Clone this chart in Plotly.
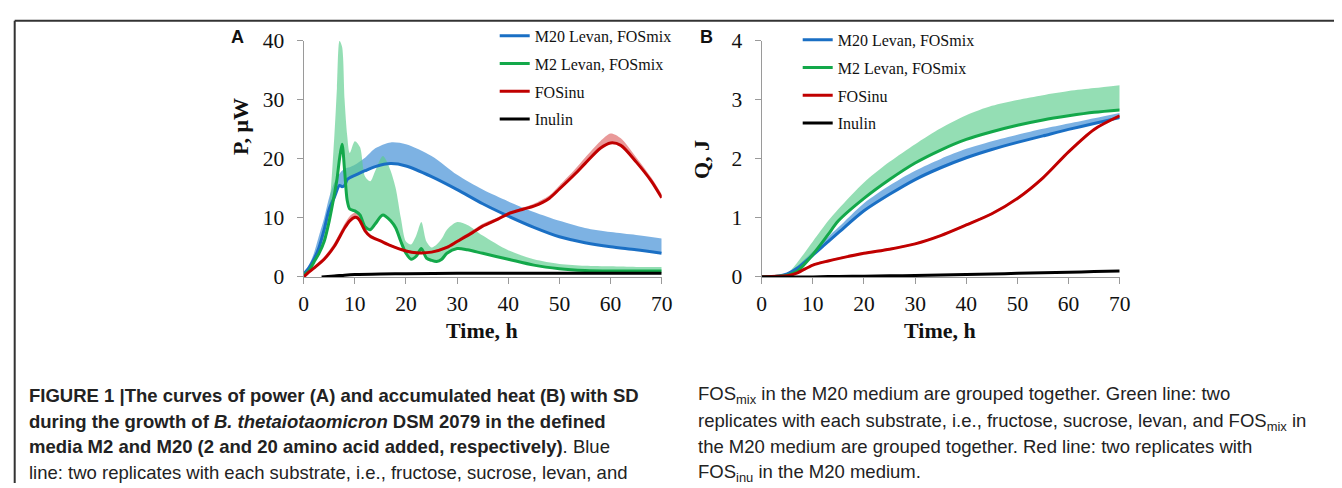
import plotly.graph_objects as go

W, H = 1342, 488

# ---------------- Panel A: power P (µW) ----------------
tA_m20 = [0, 1, 2, 3, 4, 5, 6, 7, 7.5, 8, 8.5, 9, 10, 12, 14, 17, 20, 25, 30, 35, 40, 45, 50, 55, 60, 65, 70]
pA_m20 = [0.5, 1.5, 3, 5, 8, 11.5, 13.5, 15.5, 15.3, 15.5, 16.5, 16.8, 17.2, 18, 18.7, 19.2, 18.8, 17, 14.8, 12.4, 10.3, 8.4, 6.8, 5.8, 5.1, 4.6, 4.0]
pA_m20_up = [0.8, 2, 4, 7, 10, 13.5, 16, 17.5, 18, 18.3, 18.5, 18.6, 19, 20.2, 21.8, 22.8, 22.5, 20.5, 17.3, 14.8, 12.8, 11, 9.5, 8.3, 7.6, 7.1, 6.5]

tA_m2 = [0, 1, 2, 3, 4, 5, 6, 6.5, 7, 7.5, 8, 8.5, 9, 10, 11, 12, 13, 14, 15, 15.5, 16, 17, 18, 19, 20, 21, 22, 23, 24, 25, 26, 27, 28, 30, 32, 35, 40, 45, 50, 55, 60, 65, 70]
pA_m2 = [0.3, 1, 2.5, 4, 6, 9.5, 14, 16.5, 20, 22.5, 18, 13, 11.5, 11.2, 10.5, 8.5, 8, 9, 10.2, 10.5, 10.3, 9.5, 8.3, 6, 4, 3, 3.5, 4.8, 3.2, 2.8, 2.6, 3, 4, 4.8, 4.6, 4, 3, 2, 1.4, 1.1, 1, 1, 1]
pA_m2_up = [0.5, 1.3, 3, 5, 7.5, 12, 24, 32, 40, 39, 30, 24, 21, 23, 22, 17, 16.2, 18, 20, 20.5, 20, 18, 15, 10, 6, 5.5, 7, 9.3, 6, 5, 5.5, 6.5, 8, 9.3, 8.8, 7, 4.5, 3, 2.2, 1.9, 1.8, 1.7, 1.7]

tA_inu = [0, 1, 2, 4, 6, 8, 9, 10, 10.5, 11, 12, 13, 15, 17, 20, 22, 25, 28, 30, 33, 35, 38, 40, 43, 45, 48, 50, 53, 55, 58, 60, 62, 65, 68, 70]
pA_inu = [0, 0.8, 1.5, 3, 5.2, 8.3, 9.5, 10.1, 10, 9.5, 7.8, 6.9, 6.1, 5.3, 4.4, 4.1, 4.2, 5, 6, 7.5, 8.6, 9.8, 10.7, 11.5, 12, 13.3, 14.9, 17.4, 19.2, 21.8, 22.7, 22.3, 19.5, 16.2, 13.4]
pA_inu_up = [0.2, 1, 1.8, 3.4, 5.8, 9, 10.3, 10.9, 10.8, 10.2, 8.2, 7.2, 6.3, 5.5, 4.6, 4.3, 4.4, 5.3, 6.3, 7.9, 9, 10.1, 11, 11.8, 12.4, 13.8, 15.5, 18.2, 20.2, 23, 24.3, 23.5, 20.3, 16.8, 14]

tA_inulin = [3.5, 6, 8, 10, 15, 20, 30, 40, 50, 60, 70]
pA_inulin = [0, 0.15, 0.3, 0.4, 0.5, 0.55, 0.6, 0.6, 0.6, 0.6, 0.6]

# ---------------- Panel B: accumulated heat Q (J) ----------------
tB = [0, 3, 5, 7, 10, 13, 15, 20, 25, 30, 35, 40, 45, 50, 55, 60, 65, 70]
qB_m20 = [0, 0.01, 0.05, 0.15, 0.37, 0.6, 0.75, 1.12, 1.4, 1.65, 1.85, 2.02, 2.16, 2.28, 2.39, 2.5, 2.6, 2.7]
qB_m20_up = [0, 0.02, 0.07, 0.19, 0.43, 0.68, 0.84, 1.25, 1.55, 1.8, 2.0, 2.17, 2.3, 2.41, 2.51, 2.6, 2.69, 2.78]
qB_m2 = [0, 0.01, 0.03, 0.1, 0.38, 0.72, 0.95, 1.33, 1.65, 1.93, 2.15, 2.33, 2.46, 2.57, 2.66, 2.73, 2.79, 2.83]
qB_m2_up = [0, 0.02, 0.06, 0.25, 0.6, 0.95, 1.15, 1.6, 1.95, 2.25, 2.52, 2.74, 2.9, 3.0, 3.08, 3.15, 3.2, 3.25]
qB_inu = [0, 0.01, 0.02, 0.07, 0.2, 0.27, 0.31, 0.4, 0.47, 0.56, 0.7, 0.88, 1.07, 1.33, 1.68, 2.12, 2.5, 2.73]
qB_inu_up = [0, 0.01, 0.03, 0.08, 0.22, 0.29, 0.33, 0.42, 0.49, 0.58, 0.72, 0.9, 1.09, 1.35, 1.7, 2.14, 2.52, 2.75]
qB_inulin = [0, 0, 0, 0, 0, 0.005, 0.008, 0.012, 0.018, 0.025, 0.033, 0.042, 0.05, 0.06, 0.07, 0.08, 0.09, 0.1]

names = ["M20 Levan, FOSmix", "M2 Levan, FOSmix", "FOSinu", "Inulin"]
line_colors = ["#1a6fc4", "#13a84a", "#c00000", "#000000"]
band_colors = ["rgba(70,145,215,0.70)", "rgba(90,205,140,0.65)", "rgba(215,70,70,0.55)", "rgba(0,0,0,0.3)"]

fig = go.Figure()

# mapping from target screen pixels to paper coordinates (plot area as rendered)
OX, OY, PW, PH = 15.3, 20.2, 1326.0, 462.0

def px_x(p):
    return (p - OX) / PW

def px_y(p):
    return 1 - (p - OY) / PH

def add_band(t, mean, up, color, xa, ya):
    fig.add_trace(go.Scatter(x=t, y=up, mode="lines", line=dict(width=0, shape="spline", smoothing=0.8),
                             showlegend=False, hoverinfo="skip", xaxis=xa, yaxis=ya))
    fig.add_trace(go.Scatter(x=t, y=mean, mode="lines", line=dict(width=0, shape="spline", smoothing=0.8),
                             fill="tonexty", fillcolor=color, showlegend=False, hoverinfo="skip",
                             xaxis=xa, yaxis=ya))

def add_line(t, y, i, xa, ya, legend):
    fig.add_trace(go.Scatter(x=t, y=y, mode="lines", name=names[i],
                             line=dict(color=line_colors[i], width=3, shape="spline", smoothing=0.8),
                             legend=legend, legendgroup=legend + str(i), xaxis=xa, yaxis=ya))

# Panel A
add_band(tA_m20, pA_m20, pA_m20_up, band_colors[0], "x", "y")
add_band(tA_m2, pA_m2, pA_m2_up, band_colors[1], "x", "y")
add_band(tA_inu, pA_inu, pA_inu_up, band_colors[2], "x", "y")
add_line(tA_m20, pA_m20, 0, "x", "y", "legend")
add_line(tA_m2, pA_m2, 1, "x", "y", "legend")
add_line(tA_inu, pA_inu, 2, "x", "y", "legend")
add_line(tA_inulin, pA_inulin, 3, "x", "y", "legend")

# Panel B
add_band(tB, qB_m20, qB_m20_up, band_colors[0], "x2", "y2")
add_band(tB, qB_m2, qB_m2_up, band_colors[1], "x2", "y2")
add_band(tB, qB_inu, qB_inu_up, band_colors[2], "x2", "y2")
add_line(tB, qB_m20, 0, "x2", "y2", "legend2")
add_line(tB, qB_m2, 1, "x2", "y2", "legend2")
add_line(tB, qB_inu, 2, "x2", "y2", "legend2")
add_line(tB, qB_inulin, 3, "x2", "y2", "legend2")

serif = "Liberation Serif, Times New Roman, serif"
sans = "Liberation Sans, Arial, sans-serif"

axis_common = dict(showgrid=False, zeroline=False, showline=True, linecolor="#9a9a9a", linewidth=1.2,
                   ticks="outside", tickcolor="#9a9a9a", ticklen=6, tickwidth=1.2,
                   tickfont=dict(family=serif, size=21.5, color="#111"))
xaxis_common = dict(axis_common, ticklabelstandoff=1)
yaxis_common = dict(axis_common, ticklabelstandoff=8)

ydom = [px_y(277), px_y(42)]
fig.update_layout(
    width=W, height=H, margin=dict(l=0, r=0, t=0, b=0),
    paper_bgcolor="white", plot_bgcolor="white",
    xaxis=dict(domain=[px_x(306), px_x(664)], range=[0, 70], dtick=10, anchor="y", **xaxis_common),
    yaxis=dict(domain=ydom, range=[0, 40], dtick=10, anchor="x", **yaxis_common),
    xaxis2=dict(domain=[px_x(764), px_x(1122)], range=[0, 70], dtick=10, anchor="y2", **xaxis_common),
    yaxis2=dict(domain=ydom, range=[0, 4], dtick=1, anchor="x2", **yaxis_common),
    legend=dict(x=px_x(497), y=px_y(20), xanchor="left", yanchor="top", bgcolor="rgba(0,0,0,0)",
                font=dict(family=serif, size=16, color="#111"), traceorder="grouped", tracegroupgap=4),
    legend2=dict(x=px_x(800), y=px_y(24), xanchor="left", yanchor="top", bgcolor="rgba(0,0,0,0)",
                 font=dict(family=serif, size=16, color="#111"), traceorder="grouped", tracegroupgap=4),
    showlegend=True,
)

ann = []
# Panel letters
ann.append(dict(text="<b>A</b>", x=px_x(240), y=px_y(38), font=dict(family=sans, size=18, color="#111")))
ann.append(dict(text="<b>B</b>", x=px_x(709), y=px_y(38), font=dict(family=sans, size=18, color="#111")))
# axis titles
ann.append(dict(text="<b>P, μW</b>", x=px_x(243), y=px_y(127), textangle=-90,
                font=dict(family=serif, size=22, color="#111")))
ann.append(dict(text="<b>Q, J</b>", x=px_x(704), y=px_y(160), textangle=-90,
                font=dict(family=serif, size=22, color="#111")))
ann.append(dict(text="<b>Time, h</b>", x=px_x(484), y=px_y(330), font=dict(family=serif, size=22, color="#111")))
ann.append(dict(text="<b>Time, h</b>", x=px_x(942), y=px_y(330), font=dict(family=serif, size=22, color="#111")))

caption_left = [
    "<b>FIGURE 1 |The curves of power (A) and accumulated heat (B) with SD</b>",
    "<b>during the growth of <i>B. thetaiotaomicron</i> DSM 2079 in the defined</b>",
    "<b>media M2 and M20 (2 and 20 amino acid added, respectively)</b>. Blue",
    "line: two replicates with each substrate, i.e., fructose, sucrose, levan, and",
]
caption_right = [
    "FOS<sub>mix</sub> in the M20 medium are grouped together. Green line: two",
    "replicates with each substrate, i.e., fructose, sucrose, levan, and FOS<sub>mix</sub> in",
    "the M20 medium are grouped together. Red line: two replicates with",
    "FOS<sub>inu</sub> in the M20 medium.",
]
line_y = [395, 421, 446, 472]
for txt, yy in zip(caption_left, line_y):
    ann.append(dict(text=txt, x=px_x(29), y=px_y(yy), xanchor="left",
                    font=dict(family=sans, size=18.5, color="#222")))
for txt, yy in zip(caption_right, line_y):
    ann.append(dict(text=txt, x=px_x(698), y=px_y(yy), xanchor="left",
                    font=dict(family=sans, size=18.5, color="#222")))

for a in ann:
    a.setdefault("xanchor", "center")
    a.update(xref="paper", yref="paper", yanchor="middle", showarrow=False)
fig.update_layout(annotations=ann)

# frame lines of the figure box
fig.update_layout(shapes=[
    dict(type="line", xref="paper", yref="paper", x0=px_x(17), x1=1, y0=px_y(22), y1=px_y(22),
         line=dict(color="#333", width=2)),
    dict(type="line", xref="paper", yref="paper", x0=px_x(17), x1=px_x(17), y0=0, y1=px_y(22),
         line=dict(color="#333", width=2)),
])

fig.write_html("out.html")
